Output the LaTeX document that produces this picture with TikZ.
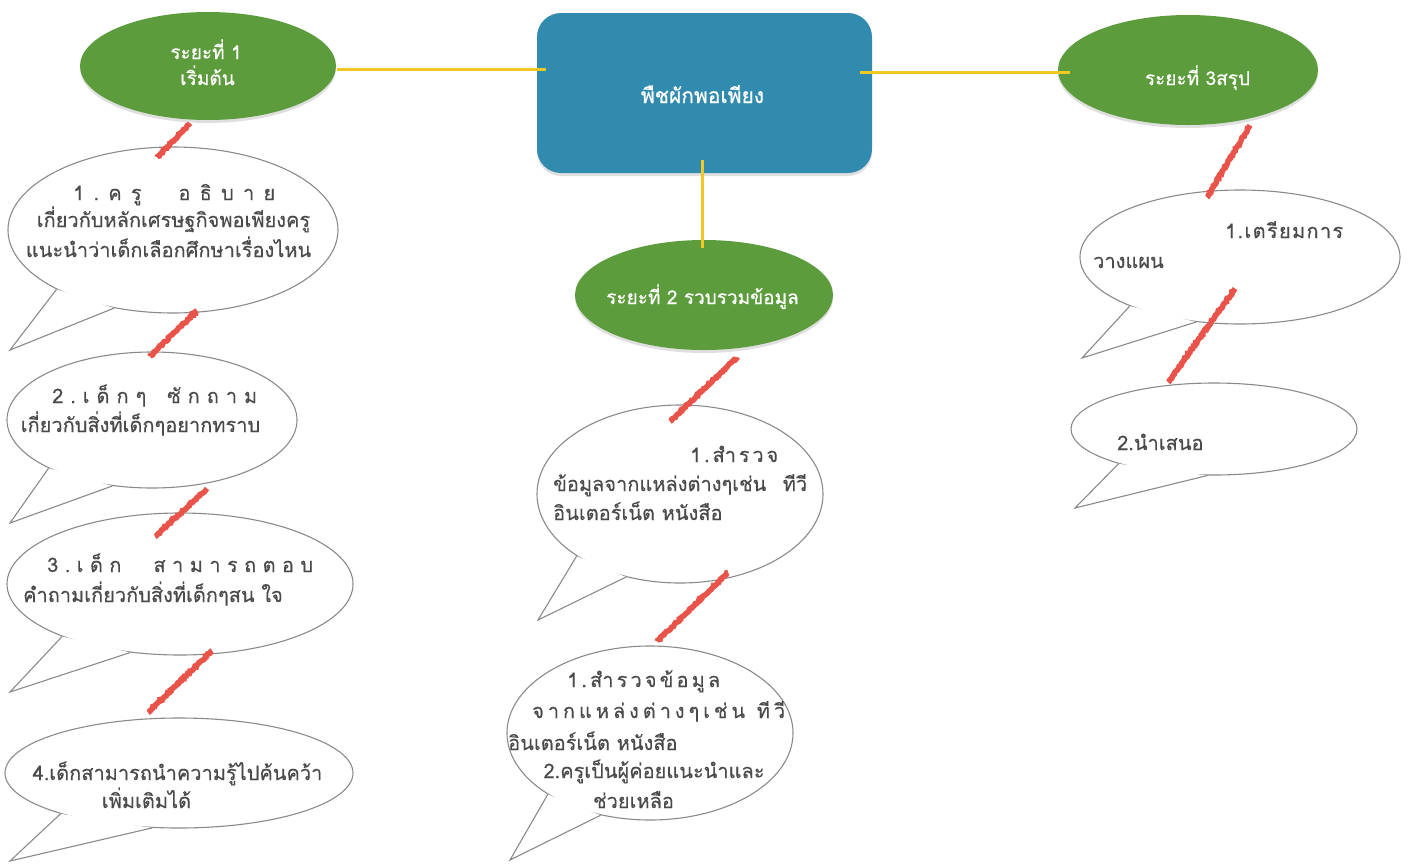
\documentclass[tikz,border=0pt]{standalone}
\usepackage{fontspec}
\newfontfamily\thaifont[Script=Thai,FakeBold=0.3]{Loma}
\newfontfamily\thaibold[Script=Thai,FakeBold=0.6]{Loma}
\usetikzlibrary{shapes.geometric,decorations.pathmorphing,shadows}
\definecolor{grass}{HTML}{5C9C3C}
\definecolor{sea}{HTML}{318BAE}
\definecolor{gold}{HTML}{F0C823}
\definecolor{redline}{HTML}{E8534A}
\definecolor{outline}{HTML}{8A8A8A}
\definecolor{txt}{HTML}{4A4A4A}
\pgfmathsetseed{7}
\begin{document}
\begin{tikzpicture}[x=1pt,y=-1pt,
  phase/.style={ellipse, fill=grass, draw=none, inner sep=0pt,
    drop shadow={opacity=0.25, shadow xshift=0pt, shadow yshift=-3pt}},
  hub/.style={rectangle, rounded corners=24pt, fill=sea, inner sep=0pt,
    minimum width=335pt, minimum height=160pt,
    drop shadow={opacity=0.25, shadow xshift=0pt, shadow yshift=-3pt}},
  label/.style={anchor=base, inner sep=0pt, text=white, font=\thaibold\fontsize{19}{22}\selectfont},
  bubble/.style={ellipse, draw=outline, line width=1.1pt, fill=white, inner sep=0pt},
  tail/.style={draw=outline, line width=1.1pt, line join=miter},
  bline/.style={anchor=base west, inner sep=0pt, text=txt, font=\thaifont\fontsize{20}{24}\selectfont},
  cline/.style={bline, anchor=base},
  yline/.style={draw=gold, line width=3pt},
  rline/.style={draw=redline, line width=5.5pt, decorate,
    decoration={random steps, segment length=1.5pt, amplitude=0.8pt}}]
\useasboundingbox (0,0) rectangle (1411,863);

% main shapes
\node[hub] (hub) at (704.5,93) {};
\node[phase, minimum width=256pt, minimum height=108pt] (e1) at (208,66) {};
\node[phase, minimum width=258pt, minimum height=110pt] (e2) at (704,295) {};
\node[phase, minimum width=260pt, minimum height=110pt] (e3) at (1188,70) {};

\node[label] (e1a) at (206,59) {ระยะที่ 1};
\node[label] (e1b) at (207.5,85) {เริ่มต้น};
\node[label] (e2a) at (702.5,304) {ระยะที่ 2 รวบรวมข้อมูล};
\node[label] (e3a) at (1197.5,85) {ระยะที่ 3สรุป};
\node[label, font=\thaibold\fontsize{21}{24}\selectfont] (huba) at (702.5,103) {พืชผักพอเพียง};

% yellow connectors
\draw[yline] ([xshift=1pt,yshift=-3pt]e1.east) -- ([xshift=9pt,yshift=24pt]hub.west);
\draw[yline] ([xshift=-12pt,yshift=21pt]hub.east) -- ([xshift=12pt,yshift=-2pt]e3.west);
\draw[yline] ([xshift=-2.5pt,yshift=13pt]hub.south) -- ([xshift=-2pt,yshift=-8pt]e2.north);

% bubbles left column
\node[bubble, minimum width=330pt, minimum height=166pt] (b1) at (173,230) {};
\fill[white] (b1.207.6) -- (10,350) -- (b1.233.4) -- cycle;
\draw[tail] (b1.207.6) -- (10,350) -- (b1.233.4);

\node[bubble, minimum width=290pt, minimum height=136pt] (b2) at (152,420) {};
\fill[white] (b2.205.6) -- (10,523) -- (b2.239.4) -- cycle;
\draw[tail] (b2.205.6) -- (10,523) -- (b2.239.4);

\node[bubble, minimum width=346pt, minimum height=142pt] (b3) at (180,584) {};
\fill[white] (b3.204.2) -- (10,692) -- (b3.234.1) -- cycle;
\draw[tail] (b3.204.2) -- (10,692) -- (b3.234.1);

\node[bubble, minimum width=348pt, minimum height=110pt] (b4) at (179,773) {};
\fill[white] (b4.199.3) -- (10,861) -- (b4.244.3) -- cycle;
\draw[tail] (b4.199.3) -- (10,861) -- (b4.244.3);

% bubbles middle column
\node[bubble, minimum width=286pt, minimum height=178pt] (m1) at (680,494) {};
\fill[white] (m1.211.7) -- (538,620) -- (m1.237.8) -- cycle;
\draw[tail] (m1.211.7) -- (538,620) -- (m1.237.8);

\node[bubble, minimum width=286pt, minimum height=174pt] (m2) at (650,733) {};
\fill[white] (m2.211.9) -- (510,860) -- (m2.239.2) -- cycle;
\draw[tail] (m2.211.9) -- (510,860) -- (m2.239.2);

% bubbles right column
\node[bubble, minimum width=320pt, minimum height=134pt] (r1) at (1240,257) {};
\fill[white] (r1.204) -- (1082,358) -- (r1.236.3) -- cycle;
\draw[tail] (r1.204) -- (1082,358) -- (r1.236.3);

\node[bubble, minimum width=286pt, minimum height=92pt] (r2) at (1214,429) {};
\fill[white] (r2.200.3) -- (1075,508) -- (r2.262.6) -- cycle;
\draw[tail] (r2.200.3) -- (1075,508) -- (r2.262.6);

% bubble texts
\node[bline] (b1ta) at (73,200) {\makebox[202pt][l]{1\hfill.\hfill ค\hfill รู\hfill\hfill\hfill\hfill อ\hfill ธิ\hfill บ\hfill า\hfill ย}};
\node[cline] (b1tb) at (173.5,227) {เกี่ยวกับหลักเศรษฐกิจพอเพียงครู};
\node[cline] (b1tc) at (168.5,257) {แนะนำว่าเด็กเลือกศึกษาเรื่องไหน};

\node[bline] (b2ta) at (52,403) {\makebox[205pt][l]{2\hfill.\hfill เ\hfill ด็\hfill ก\hfill ๆ\hfill\hfill\hfill ซั\hfill ก\hfill ถ\hfill า\hfill ม}};
\node[cline] (b2tb) at (140.5,432) {เกี่ยวกับสิ่งที่เด็กๆอยากทราบ};

\node[bline] (b3ta) at (47,572) {\makebox[266pt][l]{3\hfill.\hfill เ\hfill ด็\hfill ก\hfill\hfill\hfill\hfill\hfill ส\hfill า\hfill ม\hfill า\hfill ร\hfill ถ\hfill ต\hfill อ\hfill บ}};
\node[cline] (b3tb) at (153,602) {คำถามเกี่ยวกับสิ่งที่เด็กๆสน ใจ};

\node[cline] (b4ta) at (177.5,780) {4.เด็กสามารถนำความรู้ไปค้นคว้า};
\node[cline] (b4tb) at (146.5,808) {เพิ่มเติมได้};

\node[bline] (m1ta) at (690,462) {\makebox[88pt][l]{1\hfill.\hfill สำ\hfill ร\hfill ว\hfill จ}};
\node[bline] (m1tb) at (553,491) {\makebox[254pt][l]{ข้อมูลจากแหล่งต่างๆเช่น\hfill ทีวี}};
\node[bline] (m1tc) at (553,520) {อินเตอร์เน็ต หนังสือ};

\node[bline] (m2ta) at (567,687) {\makebox[153pt][l]{1\hfill.\hfill สำ\hfill ร\hfill ว\hfill จ\hfill ข้\hfill อ\hfill มู\hfill ล}};
\node[bline] (m2tb) at (532,718) {\makebox[253pt][l]{จ\hfill า\hfill ก\hfill แ\hfill ห\hfill ล่\hfill ง\hfill ต่\hfill า\hfill ง\hfill ๆ\hfill เ\hfill ช่\hfill น\hfill\hfill\hfill ที\hfill วี}};
\node[bline] (m2tc) at (508,750) {อินเตอร์เน็ต หนังสือ};
\node[cline] (m2td) at (654,778) {2.ครูเป็นผู้ค่อยแนะนำและ};
\node[cline] (m2te) at (633.5,808) {ช่วยเหลือ};

\node[bline] (r1ta) at (1225,238) {\makebox[118pt][l]{1\hfill.\hfill เ\hfill ต\hfill รี\hfill ย\hfill ม\hfill ก\hfill า\hfill ร}};
\node[bline] (r1tb) at (1093,268) {วางแผน};
\node[bline] (r2ta) at (1117,450) {2.นำเสนอ};

% red connectors
\draw[rline] ([xshift=-18pt,yshift=-3pt]e1.south) -- ([xshift=-16pt,yshift=-11pt]b1.north);
\draw[rline] ([xshift=24pt,yshift=3pt]b1.south) -- ([xshift=-2pt,yshift=-5pt]b2.north);
\draw[rline] ([xshift=55pt,yshift=0pt]b2.south) -- ([xshift=-25pt,yshift=-24pt]b3.north);
\draw[rline] ([xshift=32pt,yshift=5pt]b3.south) -- ([xshift=-31pt,yshift=5pt]b4.north);
\draw[rline] ([xshift=33pt,yshift=-7pt]e2.south) -- ([xshift=-10pt,yshift=-17pt]m1.north);
\draw[rline] ([xshift=48pt,yshift=11pt]m1.south) -- ([xshift=7pt,yshift=4pt]m2.north);
\draw[rline] ([xshift=62pt,yshift=0pt]e3.south) -- ([xshift=-33pt,yshift=-8pt]r1.north);
\draw[rline] ([xshift=-5pt,yshift=36pt]r1.south) -- ([xshift=-46pt,yshift=0pt]r2.north);
\end{tikzpicture}
\end{document}
